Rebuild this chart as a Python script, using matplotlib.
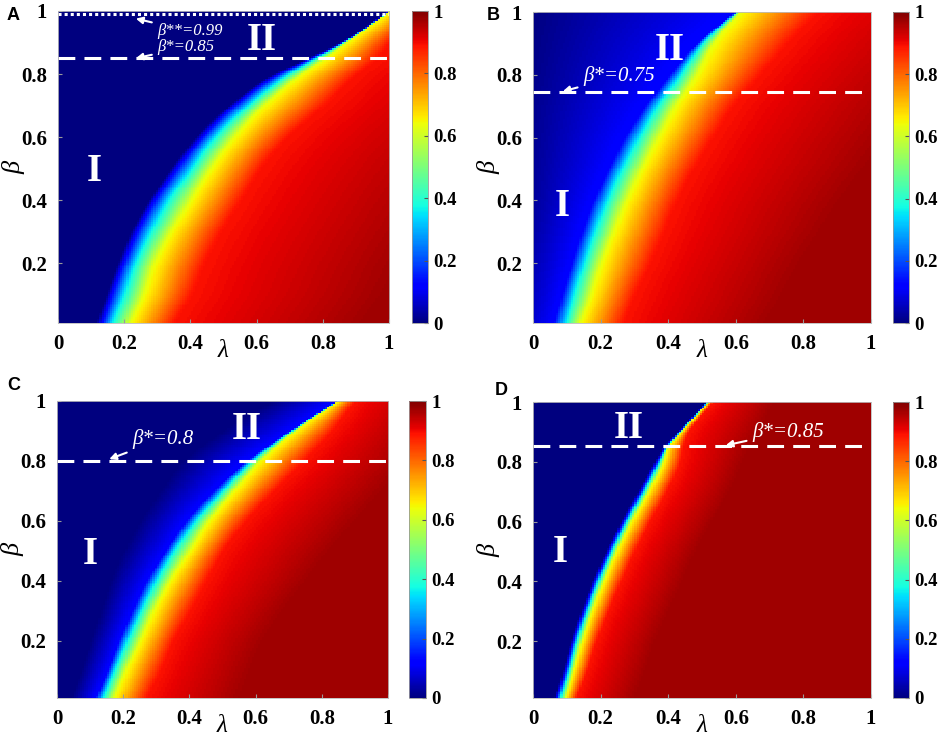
import numpy as np
import matplotlib
matplotlib.use("Agg")
import matplotlib.pyplot as plt

plt.rcParams["font.family"] = ["Liberation Serif", "DejaVu Serif"]

# colour levels, and for each panel the lambda at which each level is reached
# (one row per beta value)
levels = [0.0, 0.12, 0.35, 0.63, 0.89, 0.97]

beta_A = [0.01, 0.1, 0.2, 0.3, 0.4, 0.5, 0.6, 0.7, 0.8, 0.85, 0.9, 0.95, 1.0]
contours_A = [
    [0.115, 0.131, 0.161, 0.217, 0.35, 0.92],
    [0.145, 0.160, 0.196, 0.257, 0.40, 0.98],
    [0.180, 0.196, 0.230, 0.290, 0.44, 1.03],
    [0.220, 0.237, 0.277, 0.340, 0.49, 1.09],
    [0.275, 0.290, 0.330, 0.400, 0.55, 1.15],
    [0.340, 0.357, 0.400, 0.460, 0.61, 1.22],
    [0.415, 0.433, 0.470, 0.530, 0.69, 1.30],
    [0.515, 0.530, 0.570, 0.620, 0.80, 1.40],
    [0.650, 0.665, 0.695, 0.735, 0.90, 1.50],
    [0.750, 0.760, 0.775, 0.805, 0.96, 1.55],
    [0.850, 0.856, 0.860, 0.870, 1.00, 1.60],
    [0.925, 0.930, 0.932, 0.935, 1.05, 1.65],
    [0.990, 0.995, 0.997, 0.998, 1.10, 1.70],
]

beta_B = [0.01, 0.1, 0.2, 0.3, 0.4, 0.5, 0.6, 0.7, 0.8, 0.9, 1.0]
contours_B = [
    [-0.09, 0.060, 0.094, 0.138, 0.266, 0.69],
    [-0.08, 0.084, 0.118, 0.170, 0.300, 0.74],
    [-0.07, 0.113, 0.148, 0.200, 0.345, 0.79],
    [-0.06, 0.143, 0.180, 0.237, 0.385, 0.85],
    [-0.05, 0.178, 0.217, 0.276, 0.424, 0.91],
    [-0.05, 0.222, 0.260, 0.320, 0.473, 0.98],
    [-0.05, 0.270, 0.310, 0.370, 0.530, 1.05],
    [-0.05, 0.330, 0.365, 0.420, 0.590, 1.12],
    [-0.04, 0.404, 0.434, 0.483, 0.670, 1.20],
    [-0.03, 0.483, 0.500, 0.533, 0.750, 1.28],
    [-0.02, 0.597, 0.600, 0.610, 0.840, 1.36],
]

beta_C = [0.01, 0.1, 0.2, 0.3, 0.4, 0.5, 0.6, 0.7, 0.8, 0.9, 1.0]
contours_C = [
    [0.04, 0.116, 0.136, 0.171, 0.270, 0.55],
    [0.07, 0.151, 0.171, 0.206, 0.310, 0.58],
    [0.10, 0.186, 0.210, 0.250, 0.350, 0.62],
    [0.13, 0.226, 0.252, 0.290, 0.400, 0.68],
    [0.16, 0.270, 0.297, 0.340, 0.450, 0.75],
    [0.20, 0.327, 0.352, 0.400, 0.500, 0.82],
    [0.25, 0.390, 0.418, 0.458, 0.570, 0.90],
    [0.31, 0.473, 0.500, 0.534, 0.655, 0.98],
    [0.38, 0.574, 0.590, 0.614, 0.745, 1.05],
    [0.50, 0.705, 0.710, 0.720, 0.830, 1.10],
    [0.65, 0.846, 0.848, 0.850, 0.900, 1.15],
]

beta_D = [0.01, 0.1, 0.2, 0.3, 0.4, 0.5, 0.6, 0.7, 0.8, 0.85, 0.9, 1.0]
contours_D = [
    [0.062, 0.069, 0.079, 0.094, 0.128, 0.30],
    [0.087, 0.094, 0.104, 0.118, 0.158, 0.33],
    [0.111, 0.118, 0.128, 0.143, 0.187, 0.36],
    [0.141, 0.148, 0.158, 0.173, 0.222, 0.40],
    [0.175, 0.182, 0.192, 0.207, 0.260, 0.44],
    [0.215, 0.222, 0.232, 0.246, 0.300, 0.48],
    [0.259, 0.266, 0.276, 0.290, 0.345, 0.53],
    [0.309, 0.316, 0.326, 0.340, 0.394, 0.58],
    [0.358, 0.365, 0.373, 0.385, 0.434, 0.62],
    [0.385, 0.390, 0.395, 0.400, 0.444, 0.64],
    [0.426, 0.430, 0.433, 0.437, 0.460, 0.67],
    [0.509, 0.513, 0.515, 0.517, 0.530, 0.71],
]

xticks = [0, 0.2, 0.4, 0.6, 0.8, 1]
xtick_labels = ["0", "0.2", "0.4", "0.6", "0.8", "1"]
yticks = [0.2, 0.4, 0.6, 0.8, 1]
ytick_labels = ["0.2", "0.4", "0.6", "0.8", "1"]
cticks = [0, 0.2, 0.4, 0.6, 0.8, 1]
ctick_labels = ["0", "0.2", "0.4", "0.6", "0.8", "1"]

lam_grid = np.linspace(0, 1, 160)
beta_grid = np.linspace(0.01, 1, 160)


def hermite(x, xp, fp):
    # smooth cubic curve through the read points
    xp = np.asarray(xp, float)
    fp = np.asarray(fp, float)
    m = np.gradient(fp, xp)
    i = int(np.clip(np.searchsorted(xp, x) - 1, 0, len(xp) - 2))
    h = xp[i + 1] - xp[i]
    t = (x - xp[i]) / h
    return ((2 * t**3 - 3 * t**2 + 1) * fp[i] + (t**3 - 2 * t**2 + t) * h * m[i]
            + (-2 * t**3 + 3 * t**2) * fp[i + 1] + (t**3 - t**2) * h * m[i + 1])


def build_field(beta_rows, contours):
    contours = np.array(contours)
    field = np.empty((len(beta_grid), len(lam_grid)))
    for i, b in enumerate(beta_grid):
        xp = np.array([hermite(b, beta_rows, contours[:, j]) for j in range(len(levels))])
        xp = np.maximum.accumulate(xp + np.arange(len(xp)) * 1e-6)
        field[i] = np.interp(lam_grid, xp, levels)
    return field


W, H = 941, 739
fig = plt.figure(figsize=(W / 100, H / 100), dpi=100)


def box(x0, y0, x1, y1):
    return [x0 / W, 1 - y1 / H, (x1 - x0) / W, (y1 - y0) / H]


panels = [
    ("A", box(58, 11, 389, 323), box(412, 11, 428, 323), beta_A, contours_A, (7, 20)),
    ("B", box(533, 12, 871, 323), box(893, 12, 909, 323), beta_B, contours_B, (487, 20)),
    ("C", box(57, 401, 388, 698), box(409, 401, 426, 698), beta_C, contours_C, (7, 390)),
    ("D", box(533, 402, 871, 698), box(893, 402, 909, 698), beta_D, contours_D, (495, 395)),
]

axes = {}
for letter, apos, cpos, brows, cont, lpos in panels:
    ax = fig.add_axes(apos)
    cax = fig.add_axes(cpos)
    field = build_field(brows, cont)
    im = ax.imshow(field, extent=[0, 1, 0.01, 1], origin="lower", aspect="auto",
                   cmap="jet", vmin=0, vmax=1, interpolation="nearest")
    ax.set_xlim(0, 1)
    ax.set_ylim(0.01, 1)
    ax.set_xticks(xticks)
    ax.set_xticklabels(xtick_labels)
    ax.set_yticks(yticks)
    ax.set_yticklabels(ytick_labels)
    ax.tick_params(direction="in", length=3, labelsize=15, pad=8, color="#999999")
    for lab in ax.get_xticklabels() + ax.get_yticklabels():
        lab.set_fontweight("bold")
    for s in ax.spines.values():
        s.set_color("#bbbbbb")
        s.set_linewidth(0.6)
    ax.set_xlabel("λ", fontsize=18, fontstyle="italic", labelpad=-10)
    ax.set_ylabel("β", fontsize=19, fontstyle="italic", labelpad=-3)

    cb = fig.colorbar(im, cax=cax, ticks=cticks)
    cb.set_ticklabels(ctick_labels)
    cax.tick_params(direction="in", length=3, labelsize=13.5, pad=4, color="#555555")
    for lab in cax.get_yticklabels():
        lab.set_fontweight("bold")
    cb.outline.set_linewidth(0.6)
    cb.outline.set_edgecolor("#999999")

    fig.text(lpos[0] / W, 1 - lpos[1] / H, letter, fontsize=13, fontweight="bold",
             family="Liberation Sans", ha="left", va="baseline")
    axes[letter] = ax

dash = (0, (5.5, 3))
big = dict(color="white", fontsize=28, fontweight="bold", ha="center", va="center")
note = dict(color="white", fontstyle="italic", ha="left", va="center")
arrow = dict(arrowstyle="-|>", color="white", lw=1.5, mutation_scale=10)

ax = axes["A"]
ax.axhline(0.99, color="white", lw=2.2, ls=(0, (1, 1)))
ax.axhline(0.85, color="white", lw=2.2, ls=dash)
ax.text(0.617, 0.905, "II", **big)
ax.text(0.11, 0.49, "I", **big)
ax.annotate("β**=0.99", xy=(0.227, 0.978), xytext=(0.30, 0.935), fontsize=12,
            arrowprops=arrow, **note)
ax.annotate("β*=0.85", xy=(0.227, 0.848), xytext=(0.30, 0.885), fontsize=12,
            arrowprops=arrow, **note)

ax = axes["B"]
ax.axhline(0.745, color="white", lw=2.2, ls=dash)
ax.text(0.405, 0.879, "II", **big)
ax.text(0.086, 0.38, "I", **big)
ax.annotate("β*=0.75", xy=(0.08, 0.745), xytext=(0.148, 0.795), fontsize=15,
            arrowprops=arrow, **note)

ax = axes["C"]
ax.axhline(0.8, color="white", lw=2.2, ls=dash)
ax.text(0.573, 0.905, "II", **big)
ax.text(0.10, 0.487, "I", **big)
ax.annotate("β*=0.8", xy=(0.15, 0.803), xytext=(0.227, 0.873), fontsize=15,
            arrowprops=arrow, **note)

ax = axes["D"]
ax.axhline(0.853, color="white", lw=2.2, ls=dash)
ax.text(0.284, 0.913, "II", **big)
ax.text(0.08, 0.495, "I", **big)
ax.annotate("β*=0.85", xy=(0.562, 0.853), xytext=(0.648, 0.90), fontsize=15,
            arrowprops=arrow, **note)

fig.savefig("out.png", dpi=100)
